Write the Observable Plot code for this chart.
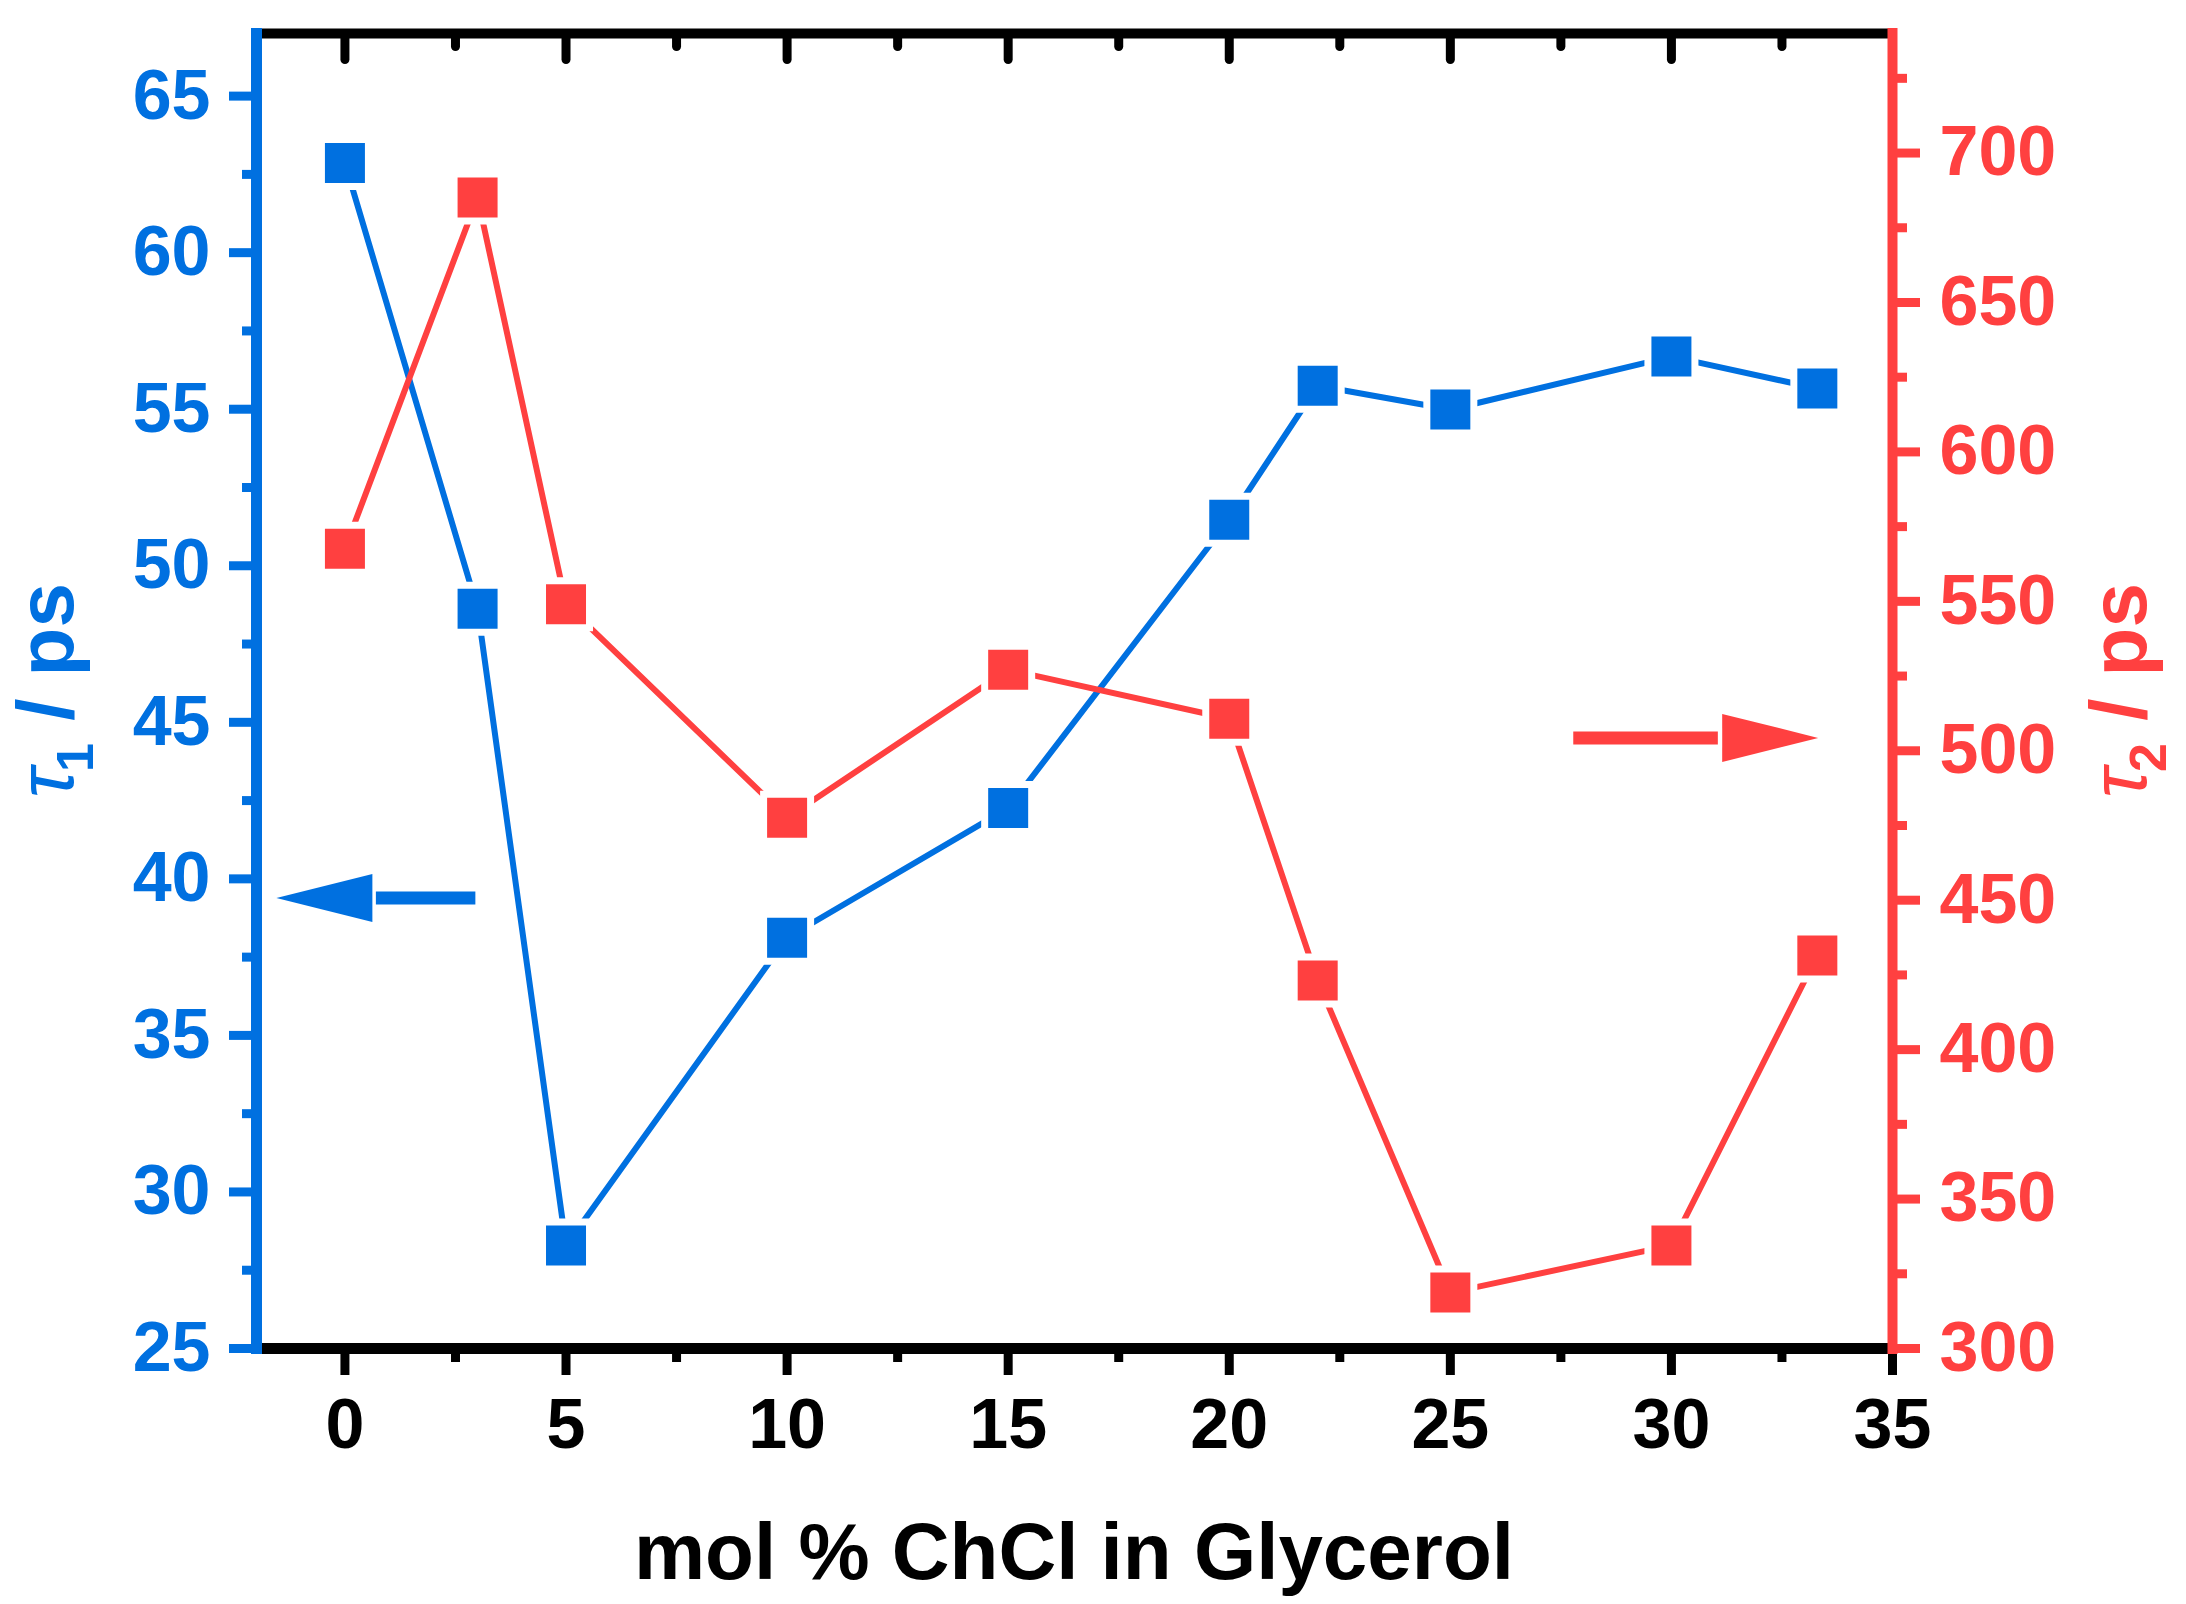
<!DOCTYPE html>
<html><head><meta charset="utf-8">
<script src="https://cdn.jsdelivr.net/npm/d3@7"></script>
<script src="https://cdn.jsdelivr.net/npm/@observablehq/plot@0.6"></script>
<style>html,body{margin:0;padding:0;background:#fff;overflow:hidden;}</style>
</head><body><div id="chart"></div>
<script>
// ---- data ----
const molPercent = [0, 3, 5, 10, 15, 20, 22, 25, 30, 33.3];
const tau1 = [62.86, 48.63, 28.29, 38.12, 42.26, 51.47, 55.75, 54.99, 56.68, 55.66];
const tau2 = [567.6, 685.1, 549.0, 477.6, 527.1, 510.7, 423.1, 318.7, 334.5, 431.5];

const xDomain = [-2, 35];
const tau1Domain = [25, 67];
const tau2Domain = [300, 740];

const xTicks = [0, 5, 10, 15, 20, 25, 30, 35];
const xMinorTicks = [2.5, 7.5, 12.5, 17.5, 22.5, 27.5, 32.5];
const tau1Ticks = [25, 30, 35, 40, 45, 50, 55, 60, 65];
const tau1MinorTicks = [27.5, 32.5, 37.5, 42.5, 47.5, 52.5, 57.5, 62.5];
const tau2Ticks = [300, 350, 400, 450, 500, 550, 600, 650, 700];
const tau2MinorTicks = [325, 375, 425, 475, 525, 575, 625, 675, 725];

// annotation arrows (x in mol %, value in own axis units)
const arrowTau1 = [{tail: 2.95, base: 0.7, tip: -1.55, value: 39.39}];
const arrowTau2 = [{tail: 27.78, base: 31.05, tip: 33.32, value: 504.3}];

const xTitle = "mol % ChCl in Glycerol";

const BLUE = "#0070E0";
const RED = "#FF4040";
const FONT = "'Liberation Sans', Arial, Helvetica, sans-serif";

const rows = molPercent.map((x, i) => ({x, t1: tau1[i], t2: tau2[i]}));
const toLeft = d3.scaleLinear(tau2Domain, tau1Domain);

const tickDown = {draw(ctx, l) { ctx.moveTo(0, 0); ctx.lineTo(0, l); }};
const arrowHead = {draw(ctx) { ctx.moveTo(0, 0); ctx.lineTo(-96, -24); ctx.lineTo(-96, 24); ctx.closePath(); }};

const sqR = 40 / Math.sqrt(Math.PI);
const haloR = 54 / Math.sqrt(Math.PI);

const chart = Plot.plot({
  width: 2186,
  height: 1604,
  marginLeft: 256,
  marginRight: 294,
  marginTop: 33,
  marginBottom: 256,
  x: {domain: xDomain},
  y: {domain: tau1Domain},
  style: {fontFamily: FONT, background: "white", overflow: "visible"},
  marks: [
    // bottom axis
    Plot.axisX(xTicks, {anchor: "bottom", tickSize: 27, tickPadding: 23, strokeWidth: 9, color: "black",
      fontSize: 70, fontWeight: "bold", label: null}),
    Plot.axisX(xMinorTicks, {anchor: "bottom", tickSize: 14, strokeWidth: 9, stroke: "black", fill: null, label: null}),
    // top inward ticks
    Plot.vector(xTicks, {x: d => d, frameAnchor: "top", anchor: "start", length: 26, shape: tickDown, stroke: "black", strokeWidth: 9}),
    Plot.vector(xMinorTicks, {x: d => d, frameAnchor: "top", anchor: "start", length: 13, shape: tickDown, stroke: "black", strokeWidth: 9}),
    // left axis
    Plot.axisY(tau1Ticks, {anchor: "left", tickSize: 27, tickPadding: 19, strokeWidth: 9, color: BLUE,
      fontSize: 70, fontWeight: "bold", label: null}),
    Plot.axisY(tau1MinorTicks, {anchor: "left", tickSize: 14, strokeWidth: 9, stroke: BLUE, fill: null, label: null}),
    // right axis
    Plot.axisY(tau2Ticks.map(toLeft), {anchor: "right", tickSize: 27, tickPadding: 20, strokeWidth: 9, color: RED,
      fontSize: 70, fontWeight: "bold", label: null, tickFormat: d => Math.round(toLeft.invert(d))}),
    Plot.axisY(tau2MinorTicks.map(toLeft), {anchor: "right", tickSize: 14, strokeWidth: 9, stroke: RED, fill: null, label: null}),
    // frame lines
    Plot.ruleY([tau1Domain[0]], {stroke: "black", strokeWidth: 11, insetLeft: -5, insetRight: -5}),
    Plot.ruleY([tau1Domain[1]], {stroke: "black", strokeWidth: 10, insetLeft: -5, insetRight: -5}),
    Plot.ruleX([xDomain[0]], {stroke: BLUE, strokeWidth: 11, insetTop: -5, insetBottom: -6}),
    Plot.ruleX([xDomain[1]], {stroke: RED, strokeWidth: 10, insetTop: -5, insetBottom: -6}),
    // series lines
    Plot.line(rows, {x: "x", y: "t1", stroke: BLUE, strokeWidth: 6, strokeLinecap: "round", strokeLinejoin: "round"}),
    Plot.line(rows, {x: "x", y: d => toLeft(d.t2), stroke: RED, strokeWidth: 6, strokeLinecap: "round", strokeLinejoin: "round"}),
    // white gaps around markers
    Plot.dot(rows, {x: "x", y: "t1", symbol: "square", r: haloR, fill: "white"}),
    Plot.dot(rows, {x: "x", y: d => toLeft(d.t2), symbol: "square", r: haloR, fill: "white"}),
    // markers
    Plot.dot(rows, {x: "x", y: "t1", symbol: "square", r: sqR, fill: BLUE}),
    Plot.dot(rows, {x: "x", y: d => toLeft(d.t2), symbol: "square", r: sqR, fill: RED}),
    // arrows
    Plot.link(arrowTau1, {x1: "tail", x2: "base", y1: "value", y2: "value", stroke: BLUE, strokeWidth: 13}),
    Plot.dot(arrowTau1, {x: "tip", y: "value", symbol: arrowHead, r: 1, fill: BLUE, rotate: 180}),
    Plot.link(arrowTau2, {x1: "tail", x2: "base", y1: d => toLeft(d.value), y2: d => toLeft(d.value), stroke: RED, strokeWidth: 13}),
    Plot.dot(arrowTau2, {x: "tip", y: d => toLeft(d.value), symbol: arrowHead, r: 1, fill: RED})
  ]
});

document.getElementById("chart").appendChild(chart);

// axis titles
const svg = d3.select(chart);
const cx = 256 + (1892 - 256) / 2;
const cy = 33 + (1348 - 33) / 2;

svg.append("text")
  .attr("x", cx).attr("y", 1579)
  .attr("text-anchor", "middle")
  .style("font-family", FONT).style("font-size", "80px").style("font-weight", "bold")
  .attr("fill", "black")
  .text(xTitle);

function yTitle(x, sub, color) {
  const t = svg.append("text")
    .attr("transform", `translate(${x},${cy}) rotate(-90)`)
    .attr("text-anchor", "middle")
    .style("font-family", FONT).style("font-size", "80px").style("font-weight", "bold")
    .attr("fill", color);
  t.append("tspan").style("font-style", "italic").style("font-weight", "normal").text("τ");
  t.append("tspan").attr("dy", 20).attr("dx", -4).style("font-size", "52px").style("font-weight", "bold").text(sub);
  t.append("tspan").attr("dy", -20).text(" / ps");
}
yTitle(73, "1", BLUE);
yTitle(2146, "2", RED);
</script>
</body></html>
